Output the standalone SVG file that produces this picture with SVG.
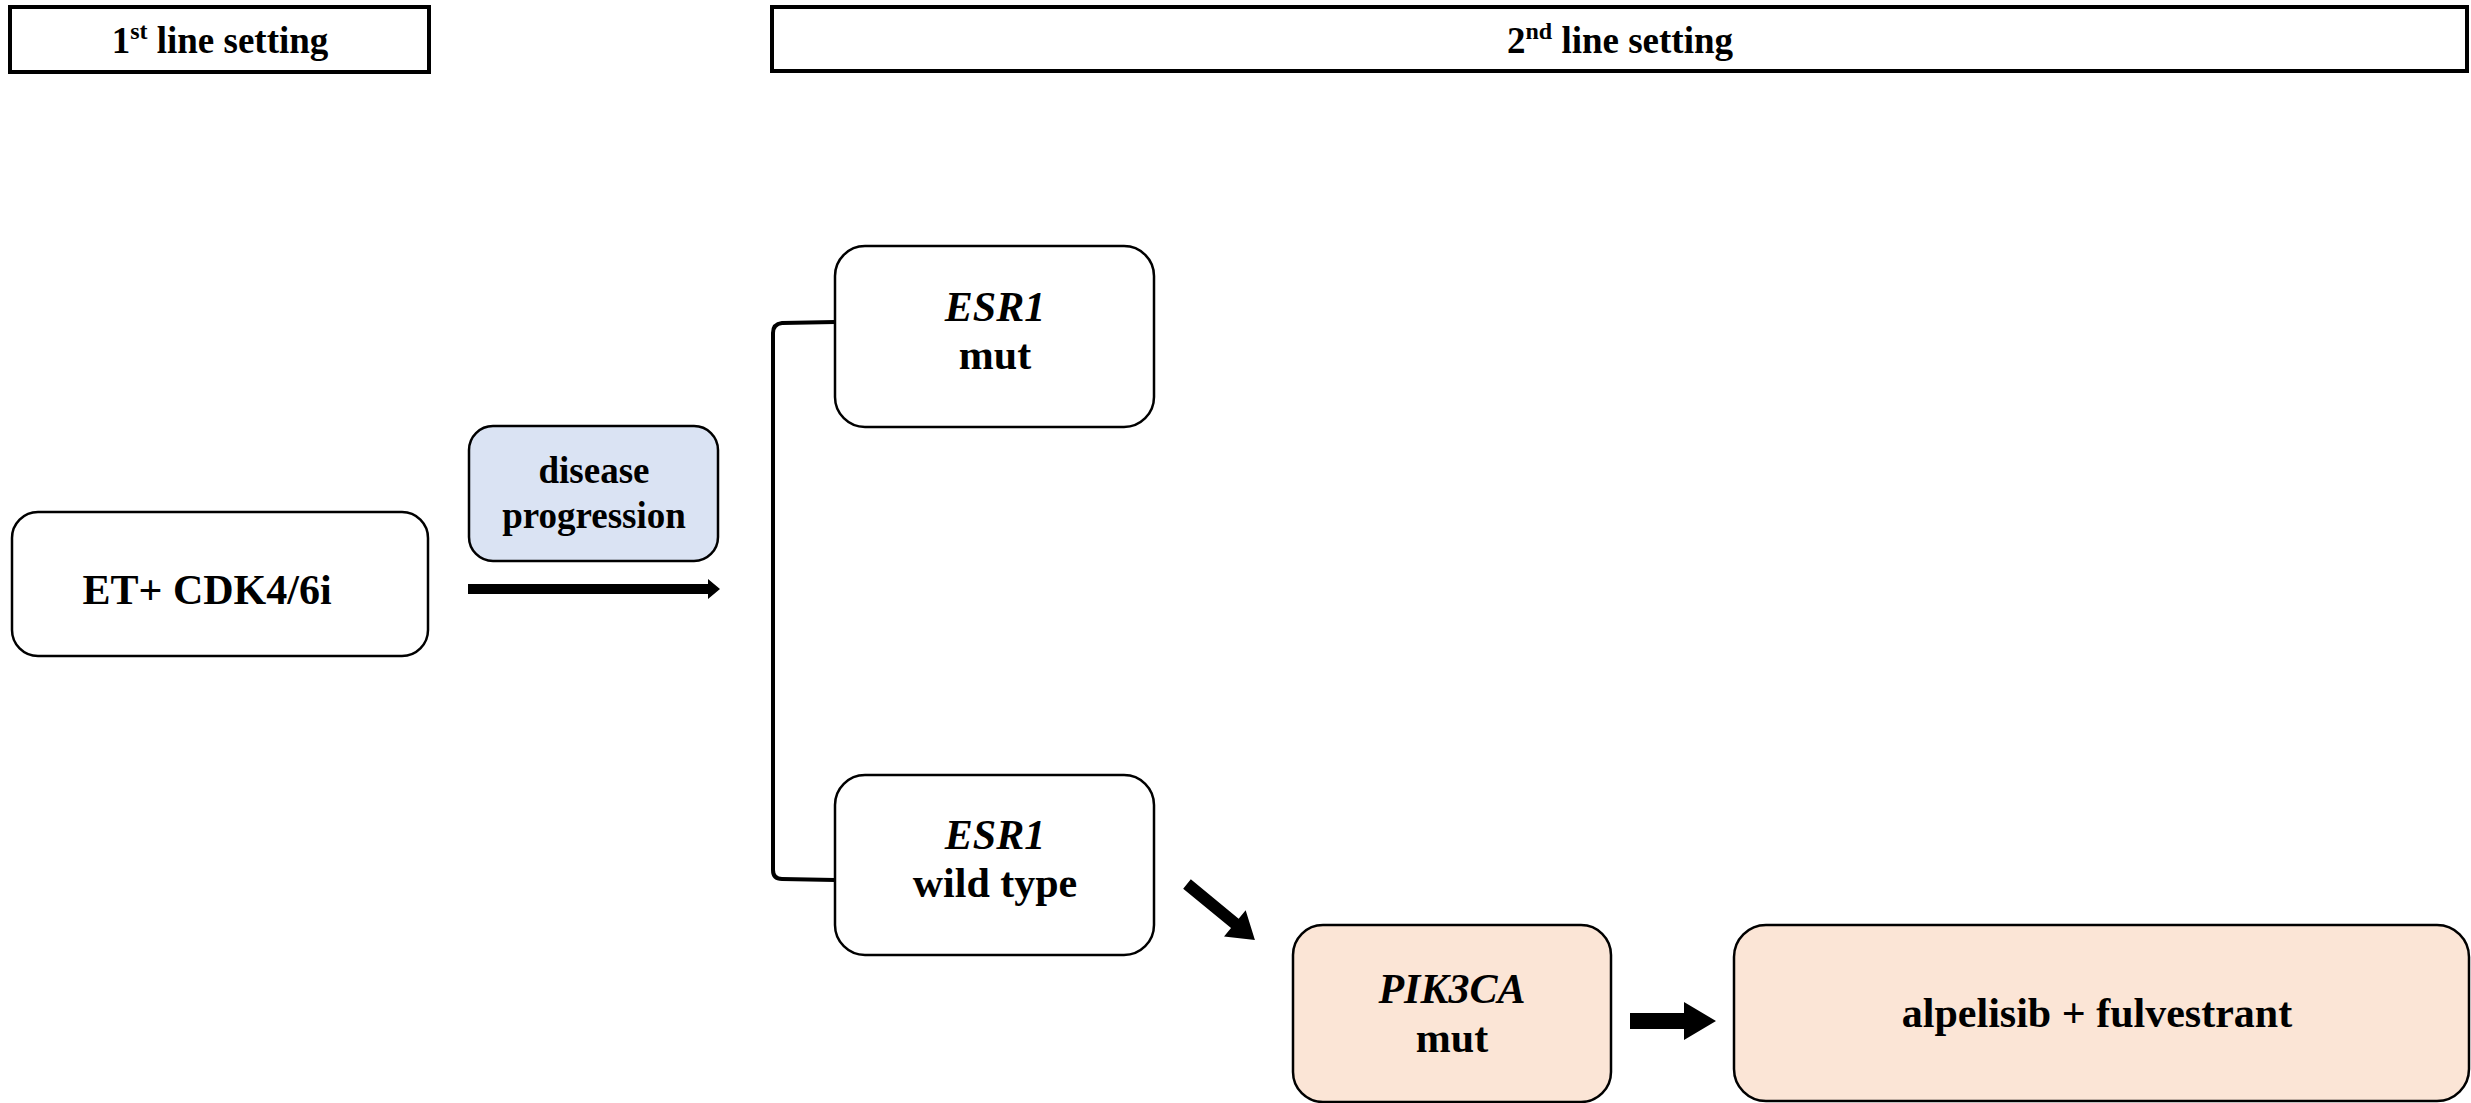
<svg xmlns="http://www.w3.org/2000/svg" width="2471" height="1103" viewBox="0 0 2471 1103">
  <style>
    text { font-family: "Liberation Serif", "Times New Roman", serif; font-weight: bold; fill: #000; text-anchor: middle; }
    .hdr { font-size: 37px; }
    .lbl { font-size: 42px; }
    .sm { font-size: 37px; }
    .it { font-style: italic; }
    .sup { font-size: 24px; }
    .header-box { fill: #fff; stroke: #000; stroke-width: 4; }
    .node { fill: #fff; stroke: #000; stroke-width: 2.5; }
    .blue { fill: #dae3f3; }
    .peach { fill: #fbe5d6; }
    .conn { fill: none; stroke: #000; stroke-width: 4; }
    .block { fill: #000; stroke: none; }
  </style>

  <!-- column headers -->
  <g id="header-first-line">
    <rect class="header-box" x="10" y="7" width="419" height="65"/>
    <text class="hdr" x="220" y="53">1<tspan class="sup" dy="-14">st</tspan><tspan dy="14"> line setting</tspan></text>
  </g>
  <g id="header-second-line">
    <rect class="header-box" x="772" y="7" width="1695" height="64"/>
    <text class="hdr" x="1620" y="53">2<tspan class="sup" dy="-14">nd</tspan><tspan dy="14"> line setting</tspan></text>
  </g>

  <!-- nodes -->
  <g id="node-et-cdk">
    <rect class="node" x="12" y="512" width="416" height="144" rx="26"/>
    <text class="lbl" x="207" y="604">ET+ CDK4/6i</text>
  </g>
  <g id="node-disease-progression">
    <rect class="node blue" x="469" y="426" width="249" height="135" rx="24"/>
    <text class="sm" x="594" y="483">disease</text>
    <text class="sm" x="594" y="528">progression</text>
  </g>
  <g id="node-esr1-mut">
    <rect class="node" x="835" y="246" width="319" height="181" rx="30"/>
    <text class="lbl it" x="995" y="321">ESR1</text>
    <text class="lbl" x="995" y="369">mut</text>
  </g>
  <g id="node-esr1-wt">
    <rect class="node" x="835" y="775" width="319" height="180" rx="30"/>
    <text class="lbl it" x="995" y="849">ESR1</text>
    <text class="lbl" x="995" y="897">wild type</text>
  </g>
  <g id="node-pik3ca-mut">
    <rect class="node peach" x="1293" y="925" width="318" height="177" rx="30"/>
    <text class="lbl it" x="1452" y="1003">PIK3CA</text>
    <text class="lbl" x="1452" y="1052">mut</text>
  </g>
  <g id="node-alpelisib">
    <rect class="node peach" x="1734" y="925" width="735" height="176" rx="32"/>
    <text class="lbl" x="2097" y="1027">alpelisib + fulvestrant</text>
  </g>

  <!-- connectors -->
  <g id="connectors">
    <!-- progression arrow -->
    <polygon class="block" points="468,584 708,584 708,579 720,589 708,599 708,594 468,594"/>
    <!-- branching bracket -->
    <path class="conn" d="M835,322 L782,323 Q773,324 773,333 L773,870 Q773,879 782,879 L835,880"/>
    <!-- wild type to PIK3CA -->
    <polygon class="block" transform="translate(1187,884) rotate(39.5)" points="0,-6 62,-6 62,-17 88,0 62,17 62,6 0,6"/>
    <!-- PIK3CA to treatment -->
    <polygon class="block" points="1630,1013 1684,1013 1684,1002 1716,1021 1684,1040 1684,1029 1630,1029"/>
  </g>
</svg>
